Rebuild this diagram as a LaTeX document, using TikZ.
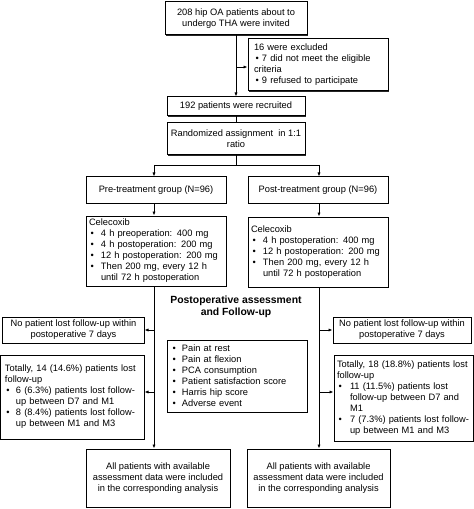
\documentclass[tikz,border=0pt]{standalone}
\usepackage{fontspec}
\setmainfont{Liberation Sans}
\usetikzlibrary{arrows.meta,shadows}
\newcommand{\bul}[1][11]{\makebox[#1bp][l]{\hspace{1.5bp}\textbullet}}
\newcommand{\ind}[1][11]{\hspace*{#1bp}}
\begin{document}
\begin{tikzpicture}[x=1bp,y=-1bp,
  box/.style={draw=black, line width=1bp, fill=white, inner sep=0pt,
    drop shadow={shadow xshift=1bp, shadow yshift=-1bp, opacity=1, fill=black!85},
    font=\fontsize{9.3bp}{11bp}\selectfont, align=center},
  lbox/.style={box, align=left},
  con/.style={line width=0.9bp, draw=black},
  arr/.style={con, -{Latex[length=4bp,width=3.2bp]}},
  title/.style={font=\fontsize{10.4bp}{12bp}\selectfont\bfseries, align=center, inner sep=0pt}
]
\useasboundingbox (0,0) rectangle (474,509);

% top column
\node[box, minimum width=142bp, minimum height=33bp] (b1) at (236,18.5)
  {208 hip OA patients about to\\undergo THA were invited};
\node[lbox, inner xsep=6bp, text width=128bp, minimum height=52bp] (b2) at (318,65)
  {16 were excluded\\\bul[8]7 did not meet the eligible\\criteria\\\bul[8]9 refused to participate};
\node[box, minimum width=138bp, minimum height=19bp] (b3) at (236,106.5)
  {192 patients were recruited};
\node[box, minimum width=138bp, minimum height=32bp] (b4) at (236,139)
  {Randomized assignment\ \ in 1:1\\ratio};

% groups
\node[box, minimum width=140bp, minimum height=26bp] (pre) at (156,190)
  {Pre-treatment group (N=96)};
\node[box, minimum width=140bp, minimum height=26bp] (post) at (318,190)
  {Post-treatment group (N=96)};

\node[lbox, inner xsep=3bp, text width=134bp, minimum height=70bp] (celL) at (156,251)
  {Celecoxib\\\bul[12]4 h preoperation: 400 mg\\\bul[12]4 h postoperation: 200 mg\\\bul[12]12 h postoperation: 200 mg\\\bul[12]Then 200 mg, every 12 h\\\ind[12]until 72 h postoperation};
\node[lbox, inner xsep=3bp, text width=134bp, minimum height=70bp] (celR) at (318,252)
  {Celecoxib\\\bul[12]4 h postoperation: 400 mg\\\bul[12]12 h postoperation: 200 mg\\\bul[12]Then 200 mg, every 12 h\\\ind[12]until 72 h postoperation};

\node[title] (ttl) at (236,306.5) {Postoperative assessment\\and Follow-up};

\node[box, minimum width=141bp, minimum height=26bp] (nolL) at (73.5,330)
  {No patient lost follow-up within\\postoperative 7 days};
\node[box, minimum width=138bp, minimum height=26bp] (nolR) at (402,330)
  {No patient lost follow-up within\\postoperative 7 days};

\node[lbox, inner xsep=4bp, text width=132bp, minimum height=72bp] (list) at (237,376)
  {\bul[11]Pain at rest\\\bul[11]Pain at flexion\\\bul[11]PCA consumption\\\bul[11]Patient satisfaction score\\\bul[11]Harris hip score\\\bul[11]Adverse event};

\node[lbox, inner xsep=4bp, text width=135bp, minimum height=84bp] (totL) at (72.5,397)
  {Totally, 14 (14.6\%) patients lost\\follow-up\\\bul[11]6 (6.3\%) patients lost follow-\\\ind[11]up between D7 and M1\\\bul[11]8 (8.4\%) patients lost follow-\\\ind[11]up between M1 and M3};
\node[lbox, inner xsep=3bp, text width=133bp, minimum height=86bp] (totR) at (403.5,398)
  {Totally, 18 (18.8\%) patients lost\\follow-up\\\bul[13]11 (11.5\%) patients lost\\\ind[13]follow-up between D7 and\\\ind[13]M1\\\bul[13]7 (7.3\%) patients lost follow-\\\ind[13]up between M1 and M3};

\node[box, minimum width=144bp, minimum height=58bp] (botL) at (158,478)
  {All patients with available\\assessment data were included\\in the corresponding analysis};
\node[box, minimum width=143bp, minimum height=58bp] (botR) at (318.5,478)
  {All patients with available\\assessment data were included\\in the corresponding analysis};

% connectors
\coordinate (j1) at (236,67);
\draw[arr] (b1.south) -- (b3.north);
\draw[arr] (j1) -- (j1 -| b2.west);
\draw[con] (b3.south) -- (b4.north);
\coordinate (sL) at (154,165);
\coordinate (sR) at (319,165);
\draw[con] (b4.south) -- (b4.south |- sL);
\draw[con] (sL) -- (sR);
\draw[arr] (sL) -- (sL |- pre.north);
\draw[arr] (sR) -- (sR |- post.north);
\draw[arr] (pre.south -| sL) -- (celL.north -| sL);
\draw[arr] (post.south -| sR) -- (celR.north -| sR);
\draw[arr] (celL.south -| sL) -- (botL.north -| sL);
\draw[arr] (celR.south -| sR) -- (botR.north -| sR);
\coordinate (aL1) at (154,330);
\coordinate (aL2) at (154,392);
\coordinate (aR1) at (319,330);
\coordinate (aR2) at (319,392);
\draw[arr] (aL1) -- (aL1 -| nolL.east);
\draw[arr] (aL2) -- (aL2 -| totL.east);
\draw[arr] (aR1) -- (aR1 -| nolR.west);
\draw[arr] (aR2) -- (aR2 -| totR.west);
\end{tikzpicture}
\end{document}
